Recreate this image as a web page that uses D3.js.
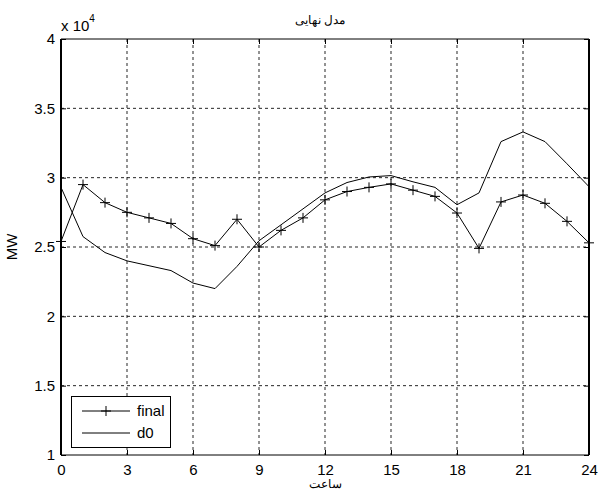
<!DOCTYPE html>
<html>
<head>
<meta charset="utf-8"/>
<script src="https://d3js.org/d3.v7.min.js"></script>
<style type="text/css">
body { margin: 0; background: #fff; }
text { font-family: "Liberation Sans", Arial, sans-serif; fill: #000; }
.grid line { stroke: #000; stroke-width: 1; stroke-dasharray: 3,3; opacity: 0.85; }
</style>
</head>
<body>
<script>
// hours on the x axis
var hours = d3.range(0, 25);
var xTicks = [0, 3, 6, 9, 12, 15, 18, 21, 24];
var yTicks = [1, 1.5, 2, 2.5, 3, 3.5, 4];

// values in units of 10^4 MW
var finalVals = [2.54, 2.95, 2.82, 2.75, 2.71, 2.67, 2.56, 2.51, 2.70, 2.50,
                 2.62, 2.71, 2.84, 2.90, 2.93, 2.955, 2.91, 2.865, 2.745, 2.49,
                 2.825, 2.875, 2.815, 2.685, 2.53];
var d0Vals = [2.93, 2.575, 2.46, 2.40, 2.365, 2.33, 2.24, 2.20, 2.36, 2.545,
              2.66, 2.775, 2.89, 2.965, 3.005, 3.015, 2.97, 2.93, 2.805, 2.89,
              3.26, 3.33, 3.26, 3.10, 2.935];

var width = 598, height = 493;
var pLeft = 61, pRight = 589, pTop = 39, pBottom = 455;

var x = d3.scaleLinear().domain([0, 24]).range([pLeft, pRight]);
var y = d3.scaleLinear().domain([1, 4]).range([pBottom, pTop]);

var svg = d3.select("body").append("svg")
            .attr("width", width)
            .attr("height", height);

// grid
var grid = svg.append("g").attr("class", "grid");
grid.selectAll(".gx").data(xTicks.slice(1, -1)).enter().append("line")
    .attr("x1", d => x(d)).attr("x2", d => x(d))
    .attr("y1", pTop).attr("y2", pBottom);
grid.selectAll(".gy").data(yTicks.slice(1, -1)).enter().append("line")
    .attr("x1", pLeft).attr("x2", pRight)
    .attr("y1", d => y(d)).attr("y2", d => y(d));

// axes (ticks inside, MATLAB style)
svg.append("g").attr("transform", "translate(0," + pBottom + ")")
   .call(d3.axisBottom(x).tickValues(xTicks).tickSizeInner(-5).tickSizeOuter(0).tickPadding(9))
   .call(g => g.select(".domain").remove());
svg.append("g").attr("transform", "translate(0," + pTop + ")")
   .call(d3.axisTop(x).tickValues(xTicks).tickSizeInner(-5).tickSizeOuter(0).tickFormat(""))
   .call(g => g.select(".domain").remove());
svg.append("g").attr("transform", "translate(" + pLeft + ",0)")
   .call(d3.axisLeft(y).tickValues(yTicks).tickSizeInner(-5).tickSizeOuter(0).tickPadding(6)
           .tickFormat(d3.format("~g")))
   .call(g => g.select(".domain").remove());
svg.append("g").attr("transform", "translate(" + pRight + ",0)")
   .call(d3.axisRight(y).tickValues(yTicks).tickSizeInner(-5).tickSizeOuter(0).tickFormat(""))
   .call(g => g.select(".domain").remove());

svg.selectAll(".tick text").style("font-size", "15px").style("font-family", "Liberation Sans, Arial, sans-serif");
svg.selectAll(".tick line").attr("stroke", "#000");

// box
svg.append("line").attr("x1", pLeft).attr("x2", pRight).attr("y1", pTop).attr("y2", pTop).attr("stroke", "#000");
svg.append("line").attr("x1", pLeft).attr("x2", pRight).attr("y1", pBottom).attr("y2", pBottom).attr("stroke", "#000");
svg.append("line").attr("x1", pLeft).attr("x2", pLeft).attr("y1", pTop).attr("y2", pBottom).attr("stroke", "#000").attr("stroke-width", 2);
svg.append("line").attr("x1", pRight).attr("x2", pRight).attr("y1", pTop).attr("y2", pBottom).attr("stroke", "#000").attr("stroke-width", 2);

// series
var line = d3.line().x((d, i) => x(hours[i])).y(d => y(d));

svg.append("path").datum(d0Vals)
   .attr("d", line).attr("fill", "none").attr("stroke", "#000").attr("stroke-width", 1);
svg.append("path").datum(finalVals)
   .attr("d", line).attr("fill", "none").attr("stroke", "#000").attr("stroke-width", 1);

var m = 5;
svg.append("g").selectAll("path").data(finalVals).enter().append("path")
   .attr("d", (d, i) => "M" + (x(hours[i]) - m) + "," + y(d) + "h" + (2 * m) +
                        "M" + x(hours[i]) + "," + (y(d) - m) + "v" + (2 * m))
   .attr("stroke", "#000").attr("stroke-width", 1);

// exponent label
var ex = svg.append("text").attr("x", 61).attr("y", 31).style("font-size", "15px");
ex.append("tspan").text("x 10");
ex.append("tspan").attr("dy", -9).style("font-size", "10px").text("4");

// title and axis labels
svg.append("text").attr("x", 320).attr("y", 24).attr("text-anchor", "middle")
   .style("font-size", "12px").text("مدل نهایی");
svg.append("text").attr("x", 325).attr("y", 488).attr("text-anchor", "middle")
   .style("font-size", "12px").text("ساعت");
svg.append("text").attr("transform", "translate(17,247) rotate(-90)")
   .attr("text-anchor", "middle").style("font-size", "15px").text("MW");

// legend
var lg = svg.append("g");
lg.append("rect").attr("x", 71.5).attr("y", 396.5).attr("width", 99).attr("height", 51)
  .attr("fill", "#fff").attr("stroke", "#000");
lg.append("line").attr("x1", 82).attr("x2", 130).attr("y1", 411).attr("y2", 411).attr("stroke", "#000");
lg.append("path").attr("d", "M" + (106 - m) + ",411h" + (2 * m) + "M106," + (411 - m) + "v" + (2 * m))
  .attr("stroke", "#000");
lg.append("line").attr("x1", 82).attr("x2", 130).attr("y1", 433).attr("y2", 433).attr("stroke", "#000");
lg.append("text").attr("x", 137).attr("y", 416).style("font-size", "15px").text("final");
lg.append("text").attr("x", 137).attr("y", 438).style("font-size", "15px").text("d0");
</script>
</body>
</html>
